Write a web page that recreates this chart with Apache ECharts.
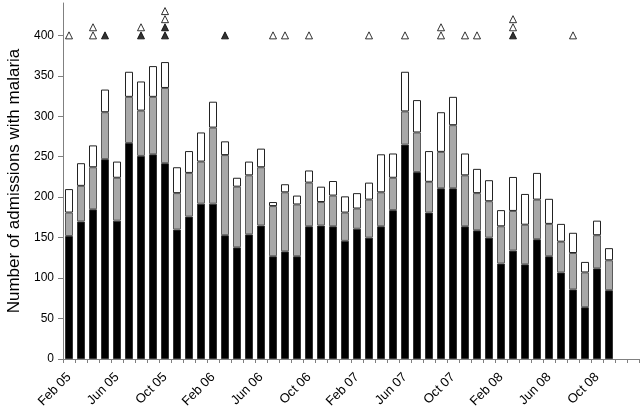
<!DOCTYPE html>
<html>
<head>
<meta charset="utf-8">
<script src="https://cdn.jsdelivr.net/npm/echarts@6/dist/echarts.min.js"></script>
<style>
    html, body { margin: 0; padding: 0; background: #fff; }
    #chart { width: 640px; height: 413px; }
</style>
</head>
<body>
<div id="chart"></div>
<script>
// months on the x axis (last two have no bars)
const months = [
    'Feb 05', 'Mar 05', 'Apr 05', 'May 05', 'Jun 05', 'Jul 05', 'Aug 05', 'Sep 05', 'Oct 05', 'Nov 05', 'Dec 05',
    'Jan 06', 'Feb 06', 'Mar 06', 'Apr 06', 'May 06', 'Jun 06', 'Jul 06', 'Aug 06', 'Sep 06', 'Oct 06', 'Nov 06', 'Dec 06',
    'Jan 07', 'Feb 07', 'Mar 07', 'Apr 07', 'May 07', 'Jun 07', 'Jul 07', 'Aug 07', 'Sep 07', 'Oct 07', 'Nov 07', 'Dec 07',
    'Jan 08', 'Feb 08', 'Mar 08', 'Apr 08', 'May 08', 'Jun 08', 'Jul 08', 'Aug 08', 'Sep 08', 'Oct 08', 'Nov 08', 'Dec 08',
    'Jan 09'
];

// stacked segments, bottom to top
const blackSeg = [152, 170, 185, 247, 171, 267, 251, 253, 242, 160, 176, 192, 192, 153, 138, 154, 165, 127, 133, 127, 164, 165, 164,
    146, 161, 150, 164, 184, 265, 231, 181, 211, 211, 164, 159, 150, 118, 134, 117, 148, 127, 107, 86, 64, 112, 85];
const greySeg = [29, 44, 52, 58, 53, 57, 56, 71, 93, 45, 54, 52, 94, 99, 75, 73, 72, 62, 73, 64, 54, 29, 38,
    35, 25, 47, 42, 40, 41, 49, 38, 45, 78, 63, 46, 45, 46, 49, 49, 49, 40, 38, 45, 43, 41, 37];
const whiteSeg = [29, 28, 27, 28, 20, 31, 36, 38, 32, 32, 27, 36, 32, 17, 11, 17, 23, 5, 10, 11, 15, 19, 18,
    20, 19, 21, 47, 30, 49, 40, 38, 49, 35, 27, 30, 26, 20, 42, 38, 33, 31, 22, 25, 13, 18, 15];

// triangle markers above the bars
const filledMarks = [['May 05', 400], ['Aug 05', 400], ['Oct 05', 400], ['Oct 05', 410], ['Mar 06', 400], ['Mar 08', 400]];
const openMarks = [
    ['Feb 05', 400], ['Apr 05', 400], ['Apr 05', 410], ['Aug 05', 410], ['Oct 05', 420], ['Oct 05', 430],
    ['Jul 06', 400], ['Aug 06', 400], ['Oct 06', 400], ['Mar 07', 400], ['Jun 07', 400],
    ['Sep 07', 400], ['Sep 07', 410], ['Nov 07', 400], ['Dec 07', 400],
    ['Mar 08', 410], ['Mar 08', 420], ['Aug 08', 400]
];

const yTicks = [0, 50, 100, 150, 200, 250, 300, 350, 400];

const FONT = 'Liberation Sans';
const chart = echarts.init(document.getElementById('chart'));

const barSeries = (name, data, color, border) => ({
    name: name,
    type: 'bar',
    stack: 'total',
    data: data,
    barWidth: 8,
    itemStyle: { color: color, borderColor: border, borderWidth: 1 },
    emphasis: { disabled: true }
});

chart.setOption({
    animation: false,
    backgroundColor: '#fff',
    grid: { left: 63, right: 1, top: 3, bottom: 54, containLabel: false, outerBoundsMode: 'none' },
    xAxis: {
        type: 'category',
        data: months,
        axisLine: { lineStyle: { color: '#808080', width: 1 } },
        axisTick: { show: true, interval: 0, length: 4, lineStyle: { color: '#808080' } },
        axisLabel: {
            interval: 3,
            rotate: 45,
            margin: 16,
            fontFamily: FONT,
            fontSize: 13,
            color: '#000'
        },
        splitLine: { show: false }
    },
    yAxis: {
        type: 'value',
        min: 0,
        max: 440,
        interval: 50,
        name: 'Number of admissions with malaria',
        nameLocation: 'middle',
        nameGap: 40,
        nameTextStyle: { fontFamily: FONT, fontSize: 17, color: '#000' },
        axisLine: { show: true, lineStyle: { color: '#808080', width: 1 } },
        axisTick: { show: true, length: 5, customValues: yTicks, lineStyle: { color: '#808080' } },
        axisLabel: {
            customValues: yTicks,
            margin: 9,
            fontFamily: FONT,
            fontSize: 12,
            color: '#000',
            formatter: v => (v > 400 ? '' : v)
        },
        splitLine: { show: false }
    },
    series: [
        barSeries('black', blackSeg, '#000000', '#333333'),
        barSeries('grey', greySeg, '#a8a8a8', '#5a5a5a'),
        barSeries('white', whiteSeg, '#ffffff', '#222222'),
        {
            name: 'open',
            type: 'scatter',
            data: openMarks,
            symbol: 'triangle',
            symbolSize: [7, 7],
            itemStyle: { color: '#ffffff', borderColor: '#000', borderWidth: 1 },
            emphasis: { disabled: true }
        },
        {
            name: 'filled',
            type: 'scatter',
            data: filledMarks,
            symbol: 'triangle',
            symbolSize: [7, 7],
            itemStyle: { color: '#000000', borderColor: '#000', borderWidth: 1 },
            emphasis: { disabled: true }
        }
    ]
});
</script>
</body>
</html>
